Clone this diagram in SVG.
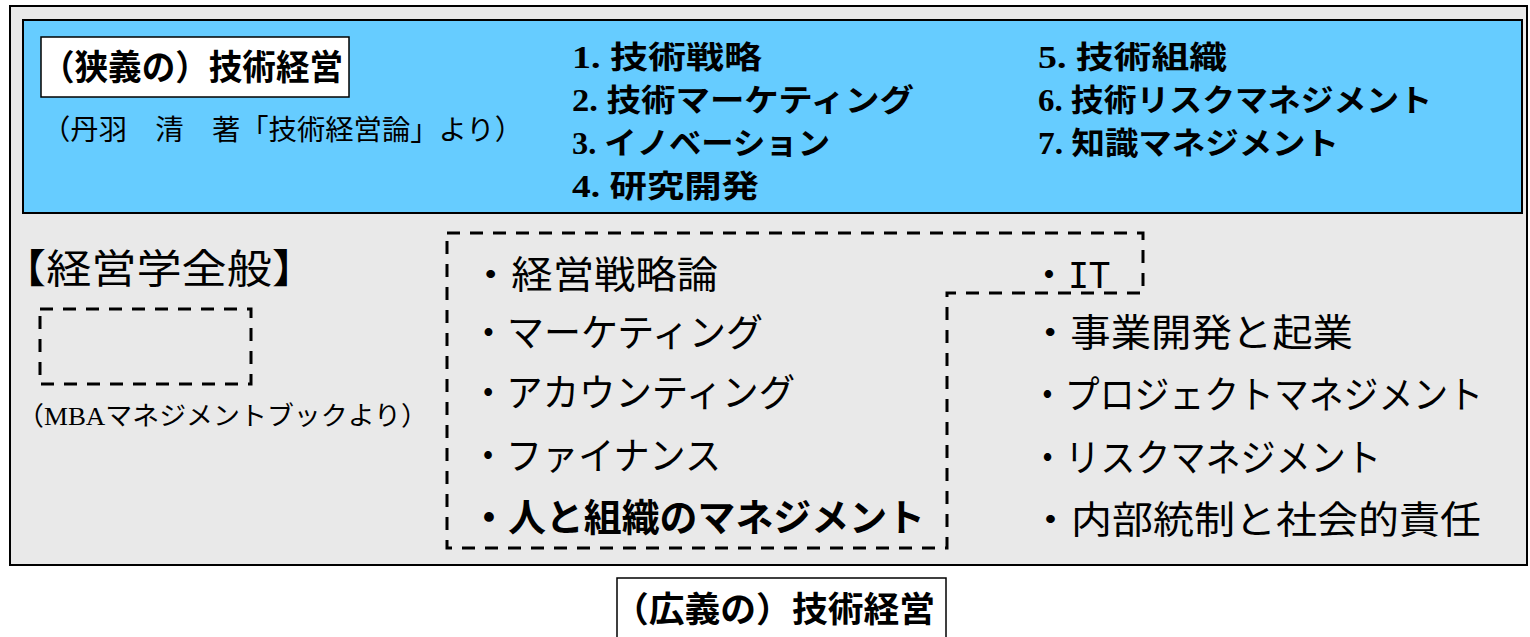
<svg xmlns="http://www.w3.org/2000/svg" width="1530" height="637" viewBox="0 0 1530 637">
<style>
.jp{font-family:"Liberation Sans","Noto Sans CJK JP",sans-serif;fill:#000}
.b{font-weight:bold}
.num{font-family:"Liberation Serif","Noto Sans CJK JP",serif;font-weight:bold}
.dash{fill:none;stroke:#000;stroke-width:3;stroke-dasharray:13 10}
.frame{stroke:#000;stroke-width:2}
</style>
<rect width="1530" height="637" fill="#ffffff"/>
<g id="outer"><rect class="frame" x="10" y="6" width="1517" height="559" fill="#e9e9e9"/></g>
<g id="narrow">
<rect class="frame" x="23" y="20" width="1499" height="193" fill="#66ccff"/>
<rect x="41" y="37" width="308" height="60" fill="#ffffff" stroke="#000" stroke-width="1.5"/>
<text class="jp b" x="41" y="80" font-size="35" textLength="302" lengthAdjust="spacingAndGlyphs">（狭義の）技術経営</text>
<text class="jp" x="42" y="140" font-size="28" textLength="481" lengthAdjust="spacingAndGlyphs">（丹羽　清　著「技術経営論」より）</text>
<g font-size="31">
<text class="jp b" x="572" y="68" textLength="190" lengthAdjust="spacingAndGlyphs"><tspan class="num">1. </tspan>技術戦略</text>
<text class="jp b" x="572" y="111" textLength="342" lengthAdjust="spacingAndGlyphs"><tspan class="num">2. </tspan>技術マーケティング</text>
<text class="jp b" x="572" y="154" textLength="258" lengthAdjust="spacingAndGlyphs"><tspan class="num">3. </tspan>イノベーション</text>
<text class="jp b" x="572" y="197" textLength="187" lengthAdjust="spacingAndGlyphs"><tspan class="num">4. </tspan>研究開発</text>
<text class="jp b" x="1038" y="68" textLength="189" lengthAdjust="spacingAndGlyphs"><tspan class="num">5. </tspan>技術組織</text>
<text class="jp b" x="1038" y="111" textLength="394" lengthAdjust="spacingAndGlyphs"><tspan class="num">6. </tspan>技術リスクマネジメント</text>
<text class="jp b" x="1038" y="154" textLength="301" lengthAdjust="spacingAndGlyphs"><tspan class="num">7. </tspan>知識マネジメント</text>
</g>
</g>
<g id="general">
<text class="jp" x="1" y="283" font-size="40" textLength="316" lengthAdjust="spacingAndGlyphs">【経営学全般】</text>
<rect class="dash" x="40" y="309" width="211" height="75"/>
<text class="jp" x="17" y="425" font-size="26" textLength="411" lengthAdjust="spacingAndGlyphs">（<tspan font-family="Liberation Serif">MBA</tspan>マネジメントブックより）</text>
</g>
<g id="connectors">
<path class="dash" d="M447,233 H1143 V293 H947 V548 H447 Z"/>
</g>
<g id="mba-list" font-size="38">
<text class="jp" x="470" y="288" textLength="248" lengthAdjust="spacingAndGlyphs">・経営戦略論</text>
<text class="jp" x="470" y="346" textLength="293" lengthAdjust="spacingAndGlyphs">・マーケティング</text>
<text class="jp" x="470" y="406" textLength="325" lengthAdjust="spacingAndGlyphs">・アカウンティング</text>
<text class="jp" x="470" y="469" textLength="251" lengthAdjust="spacingAndGlyphs">・ファイナンス</text>
<text class="jp b" x="470" y="531" textLength="455" lengthAdjust="spacingAndGlyphs">・人と組織のマネジメント</text>
</g>
<g id="tech-list" font-size="38">
<text class="jp" x="1030" y="288">・<tspan font-family="DejaVu Sans Mono" font-size="35">IT</tspan></text>
<text class="jp" x="1030" y="346" textLength="323" lengthAdjust="spacingAndGlyphs">・事業開発と起業</text>
<text class="jp" x="1030" y="408" textLength="453" lengthAdjust="spacingAndGlyphs">・プロジェクトマネジメント</text>
<text class="jp" x="1030" y="471" textLength="351" lengthAdjust="spacingAndGlyphs">・リスクマネジメント</text>
<text class="jp" x="1030" y="533" textLength="451" lengthAdjust="spacingAndGlyphs">・内部統制と社会的責任</text>
</g>
<g id="broad">
<rect x="617" y="578" width="329" height="70" fill="#ffffff" stroke="#000" stroke-width="1.5"/>
<text class="jp b" x="613" y="622" font-size="35" textLength="322" lengthAdjust="spacingAndGlyphs">（広義の）技術経営</text>
</g>
</svg>
